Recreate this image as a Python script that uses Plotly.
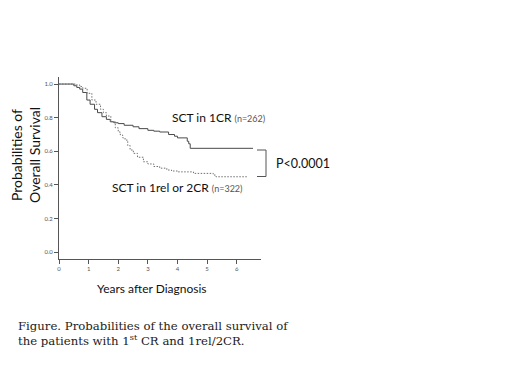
import plotly.graph_objects as go

# Kaplan-Meier style step data
years_1cr = [0, 0.5, 0.6, 0.7, 0.8, 0.94, 1.05, 1.2, 1.3, 1.45, 1.6, 1.73, 1.85, 2.0, 2.2, 2.5, 2.7,
             3.0, 3.2, 3.4, 3.7, 3.9, 4.0, 4.33, 4.38, 4.43, 6.55]
surv_1cr = [1.0, 0.99, 0.98, 0.97, 0.95, 0.905, 0.88, 0.85, 0.83, 0.806, 0.79, 0.776, 0.77, 0.765,
            0.755, 0.746, 0.735, 0.725, 0.72, 0.715, 0.70, 0.69, 0.68, 0.66, 0.645, 0.618, 0.618]

years_2cr = [0, 0.55, 0.7, 0.8, 0.95, 1.11, 1.25, 1.4, 1.5, 1.6, 1.75, 1.9, 2.0, 2.07, 2.15, 2.23,
             2.32, 2.4, 2.51, 2.65, 2.85, 3.0, 3.2, 3.4, 3.64, 3.8, 4.0, 4.54, 5.21, 5.3, 6.34]
surv_2cr = [1.0, 0.995, 0.985, 0.975, 0.945, 0.905, 0.88, 0.85, 0.83, 0.81, 0.776, 0.74, 0.715,
            0.697, 0.68, 0.667, 0.635, 0.608, 0.588, 0.565, 0.538, 0.525, 0.51, 0.5, 0.489, 0.483,
            0.478, 0.469, 0.459, 0.449, 0.449]

x_ticks = [0, 1, 2, 3, 4, 5, 6]
y_ticks = [0.0, 0.2, 0.4, 0.6, 0.8, 1.0]
y_tick_labels = ["0.0", "0.2", "0.4", "0.6", "0.8", "1.0"]

OFF = 8  # page body margin offset
W, H = 520, 390
# target positions in the screenshot
PL, PR, PT, PB = 59, 261, 77, 259
L, T = PL - OFF, PT - OFF
R = W - (PR - OFF)
B = H - (PB - OFF)
PW, PH = PR - PL, PB - PT


def px(xp):
    return (xp - PL) / PW


def py(yp):
    return (PB - yp) / PH


fig = go.Figure()
fig.add_trace(go.Scatter(x=years_1cr, y=surv_1cr, mode="lines", line_shape="hv",
                         line=dict(color="#4a4a4a", width=1), showlegend=False))
fig.add_trace(go.Scatter(x=years_2cr, y=surv_2cr, mode="lines", line_shape="hv",
                         line=dict(color="#707070", width=1, dash="1.5px,1.5px"), showlegend=False))

font_main = "Lato, 'Open Sans', sans-serif"
ann = []
ann.append(dict(x=px(170), y=py(117), xref="paper", yref="paper", xanchor="left", yanchor="middle",
                text="SCT in 1CR <span style='font-size:9px;color:#555'>(n=262)</span>",
                showarrow=False, font=dict(size=12, color="#111", family=font_main)))
ann.append(dict(x=px(110), y=py(187), xref="paper", yref="paper", xanchor="left", yanchor="middle",
                text="SCT in 1rel or 2CR <span style='font-size:9px;color:#555'>(n=322)</span>",
                showarrow=False, font=dict(size=12, color="#111", family=font_main)))
ann.append(dict(x=px(274), y=py(163), xref="paper", yref="paper", xanchor="left", yanchor="middle",
                text="P<0.0001", showarrow=False, font=dict(size=12.5, color="#111", family=font_main)))
ann.append(dict(x=px(152), y=py(288), xref="paper", yref="paper", xanchor="center", yanchor="middle",
                text="Years after Diagnosis", showarrow=False,
                font=dict(size=12, color="#111", family=font_main)))
ann.append(dict(x=px(25), y=py(155), xref="paper", yref="paper", xanchor="center", yanchor="middle",
                text="Probabilities of<br>Overall Survival", textangle=-90, showarrow=False,
                font=dict(size=14, color="#111", family=font_main)))
ann.append(dict(x=px(16), y=py(333), xref="paper", yref="paper", xanchor="left", yanchor="middle",
                align="left",
                text="Figure. Probabilities of the overall survival of<br>the patients with 1<sup>st</sup> CR and 1rel/2CR.",
                showarrow=False, font=dict(size=11.7, color="#222", family="'DejaVu Serif', serif")))

shapes = [
    dict(type="path", xref="paper", yref="paper",
         path=f"M {px(257)} {py(150)} L {px(266)} {py(150)} L {px(266)} {py(176.5)} L {px(257)} {py(176.5)}",
         line=dict(color="#555", width=1)),
]

fig.update_layout(
    width=W, height=H, margin=dict(l=L, r=R, t=T, b=B),
    paper_bgcolor="white", plot_bgcolor="white",
    annotations=ann, shapes=shapes,
    xaxis=dict(range=[0, 6.82], tickvals=x_ticks, showline=True, linecolor="#555", linewidth=1,
               ticks="outside", ticklen=4, tickcolor="#555", showgrid=False, zeroline=False,
               tickfont=dict(size=6, color="#555", family=font_main)),
    yaxis=dict(range=[-0.04, 1.042], tickvals=y_ticks, ticktext=y_tick_labels, showline=True,
               linecolor="#555", linewidth=1, ticks="outside", ticklen=4, tickcolor="#555",
               showgrid=False, zeroline=False, tickfont=dict(size=6, color="#555", family=font_main)),
)

fig.write_html("out.html")
